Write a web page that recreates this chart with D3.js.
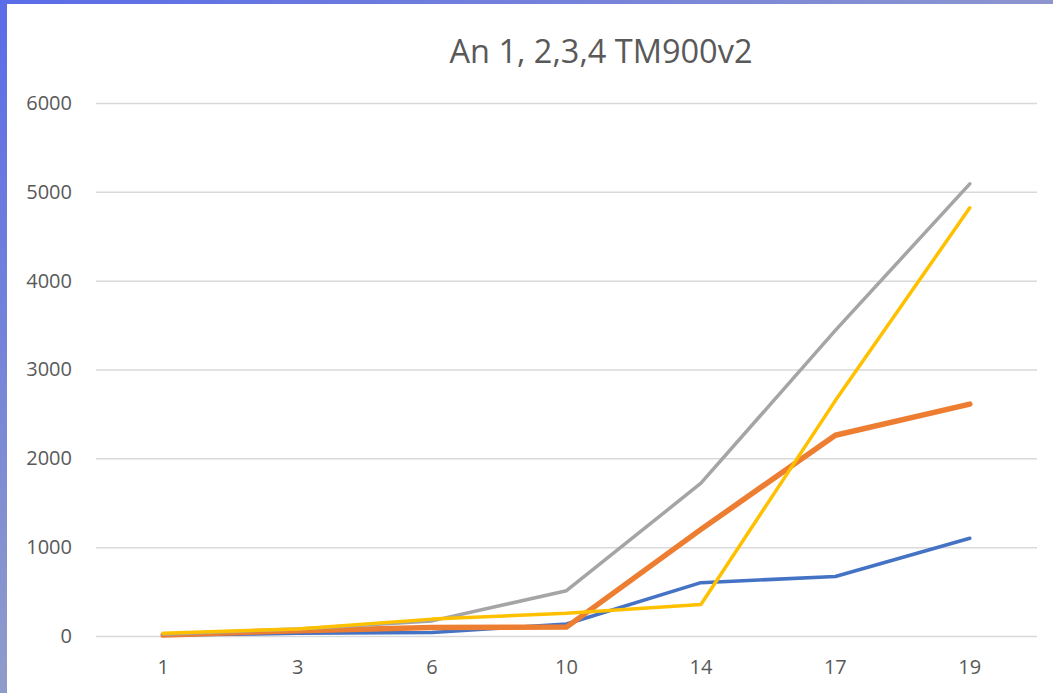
<!DOCTYPE html>
<html>
<head>
<meta charset="utf-8">
<script src="https://cdn.jsdelivr.net/npm/d3@7"></script>
<style>
  html, body { margin: 0; padding: 0; }
  body { width: 1053px; height: 693px; overflow: hidden; }
  svg { display: block; }
</style>
</head>
<body>
<script>
// Categories (x axis) and the four series
const categories = ["1", "3", "6", "10", "14", "17", "19"];
const series1 = [10, 30, 40, 135, 600, 670, 1100];
const series2 = [10, 60, 95, 100, 1200, 2260, 2610];
const series3 = [20, 80, 170, 510, 1720, 3440, 5090];
const series4 = [30, 80, 190, 255, 355, 2650, 4820];
const yTicks = [0, 1000, 2000, 3000, 4000, 5000, 6000];
const title = "An 1, 2,3,4 TM900v2";

const W = 1053, H = 693;
const svg = d3.select("body").append("svg").attr("width", W).attr("height", H);

// Frame gradient on the left and top edges
const defs = svg.append("defs");
const g1 = defs.append("linearGradient").attr("id", "frameV").attr("x1", 0).attr("y1", 0).attr("x2", 0).attr("y2", 1);
g1.append("stop").attr("offset", "0%").attr("stop-color", "#5a6ce8");
g1.append("stop").attr("offset", "100%").attr("stop-color", "#8f9cc9");
const g2 = defs.append("linearGradient").attr("id", "frameH").attr("x1", 0).attr("y1", 0).attr("x2", 1).attr("y2", 0);
g2.append("stop").attr("offset", "0%").attr("stop-color", "#5a6ce8");
g2.append("stop").attr("offset", "100%").attr("stop-color", "#8d95cf");

svg.append("rect").attr("width", W).attr("height", H).attr("fill", "#ffffff");
svg.append("rect").attr("x", 0).attr("y", 0).attr("width", 7).attr("height", H).attr("fill", "url(#frameV)");
svg.append("rect").attr("x", 0).attr("y", 0).attr("width", W).attr("height", 4).attr("fill", "url(#frameH)");

const plot = { left: 96, right: 1037, top: 103, bottom: 636 };

const x = d3.scaleBand().domain(categories).range([plot.left, plot.right]).padding(0);
const y = d3.scaleLinear().domain([0, 6000]).range([plot.bottom, plot.top]);

const font = "'Open Sans', 'Liberation Sans', sans-serif";

// Title
svg.append("text")
  .attr("x", 601).attr("y", 63)
  .attr("text-anchor", "middle")
  .attr("font-family", font)
  .attr("font-size", 32.5)
  .attr("fill", "#595959")
  .text(title);

// Horizontal gridlines with value labels
const yAxis = d3.axisLeft(y).tickValues(yTicks).tickSize(-(plot.right - plot.left)).tickPadding(24).tickFormat(d3.format("d"));
const gy = svg.append("g").attr("transform", `translate(${plot.left},0)`).call(yAxis);
gy.select(".domain").remove();
gy.selectAll(".tick line").attr("stroke", "#d9d9d9").attr("stroke-width", 1.5);
gy.selectAll(".tick text").attr("font-family", font).attr("font-size", 20).attr("fill", "#595959");

// Category axis labels
const xAxis = d3.axisBottom(x).tickSize(0).tickPadding(24);
const gx = svg.append("g").attr("transform", `translate(0,${plot.bottom})`).call(xAxis);
gx.select(".domain").remove();
gx.selectAll(".tick text").attr("font-family", font).attr("font-size", 20).attr("fill", "#595959");

// Lines
const line = d3.line()
  .x((d, i) => x(categories[i]) + x.bandwidth() / 2)
  .y(d => y(d));

const lines = [
  { values: series1, color: "#4472c4", width: 3.5 },
  { values: series2, color: "#ed7d31", width: 5.5 },
  { values: series3, color: "#a5a5a5", width: 3.5 },
  { values: series4, color: "#ffc000", width: 3.5 }
];

svg.append("g").selectAll("path").data(lines).join("path")
  .attr("d", d => line(d.values))
  .attr("fill", "none")
  .attr("stroke", d => d.color)
  .attr("stroke-width", d => d.width)
  .attr("stroke-linejoin", "round")
  .attr("stroke-linecap", "round");
</script>
</body>
</html>
